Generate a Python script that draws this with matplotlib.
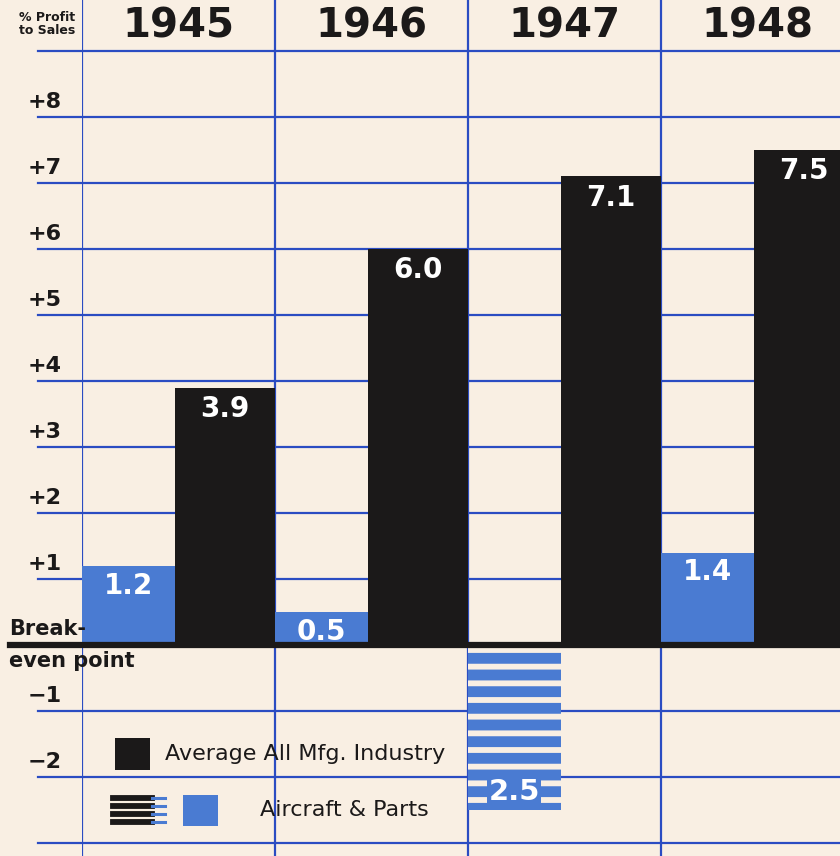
import matplotlib
matplotlib.use("Agg")
import matplotlib.pyplot as plt
from matplotlib.patches import Rectangle
from matplotlib.lines import Line2D
import numpy as np

# data (% profit to sales)
years = ["1945", "1946", "1947", "1948"]
industry = [3.9, 6.0, 7.1, 7.5]
aircraft = [1.2, 0.5, -2.5, 1.4]
tick_values = [8, 7, 6, 5, 4, 3, 2, 1, -1, -2]

bg = "#f9efe3"
line_blue = "#2b4cc2"
bar_blue = "#4a7bd2"
ink = "#1b1919"

plt.rcParams["hatch.linewidth"] = 7.8

W, H = 840, 856
def fx(px):
    return px / W
def fy(py):
    return 1 - py / H

fig = plt.figure(figsize=(8.4, 8.56), dpi=100, facecolor=bg)
ax = fig.add_axes([fx(82), 0, (W - 82) / W, 1])
ax.set_facecolor(bg)
xmax = (W - 82) / 193
ax.set_xlim(0, xmax)
ax.set_ylim(-211 / 66, 645 / 66)
ax.axis("off")

# grid
for v in range(-3, 10):
    if v == 0:
        continue
    ax.plot([-44 / 193, xmax], [v, v], color=line_blue, lw=1.6, clip_on=False, zorder=1)
for c in range(5):
    ax.axvline(c, color=line_blue, lw=1.6, zorder=1)

x = np.arange(len(years))

# bars
blue_bars = ax.bar(x, aircraft, width=0.48, align="edge", color=bar_blue, lw=0, zorder=2)
for b, v in zip(blue_bars, aircraft):
    if v < 0:
        b.set_facecolor(bg)
        b.set_edgecolor(bar_blue)
        b.set_hatch("-")
        b.set_linewidth(0)
ax.bar(x + 0.48, industry, width=0.52, align="edge", color=ink, lw=0, zorder=2)

# break-even line
ax.plot([-72 / 193, xmax], [0, 0], color=ink, lw=4.5, clip_on=False, zorder=4)

# value labels
for i, v in enumerate(industry):
    ax.text(i + 0.74, v - 0.32, f"{v:.1f}", ha="center", va="center",
            color="white", fontsize=20, fontweight="bold", zorder=5)
for i, v in enumerate(aircraft):
    if v >= 0:
        ax.text(i + 0.24, v - 0.3, f"{v:.1f}", ha="center", va="center",
                color="white", fontsize=20, fontweight="bold", zorder=5)
    else:
        ax.text(i + 0.24, v + 0.27, f"{abs(v):.1f}", ha="center", va="center",
                color="white", fontsize=21, fontweight="bold", zorder=5,
                bbox=dict(boxstyle="square,pad=0.05", fc=bar_blue, ec="none"))

# y tick labels
for v in tick_values:
    lab = f"+{v}" if v > 0 else f"\u2212{abs(v)}"
    ax.text(-20 / 193, v + 0.22, lab, ha="right", va="center",
            fontsize=16, fontweight="bold", color=ink, clip_on=False)

# year headers
for i, yr in enumerate(years):
    ax.text(i + 0.5, 618 / 66, yr, ha="center", va="center",
            fontsize=29, fontweight="heavy", color=ink)

fig.text(fx(47), fy(24), "% Profit\nto Sales", ha="center", va="center",
         fontsize=9, fontweight="bold", color=ink, linespacing=0.95)
fig.text(fx(9), fy(629), "Break-", ha="left", va="center",
         fontsize=15, fontweight="bold", color=ink)
fig.text(fx(9), fy(661), "even point", ha="left", va="center",
         fontsize=15, fontweight="bold", color=ink)

# legend
fig.patches.append(Rectangle((fx(115), fy(770)), 35 / W, 32 / H,
                             transform=fig.transFigure, fc=ink, ec="none", zorder=6))
fig.text(fx(165), fy(754), "Average All Mfg. Industry", ha="left", va="center",
         fontsize=16, color=ink, zorder=6)
for py in [798, 806, 814, 822]:
    fig.add_artist(Line2D([fx(113), fx(152)], [fy(py), fy(py)], color=ink, lw=4.2, zorder=6))
    fig.add_artist(Line2D([fx(152), fx(165)], [fy(py), fy(py)], color=bar_blue, lw=2.2, zorder=6))
fig.patches.append(Rectangle((fx(183), fy(826)), 35 / W, 31 / H,
                             transform=fig.transFigure, fc=bar_blue, ec="none", zorder=6))
fig.text(fx(260), fy(810), "Aircraft & Parts", ha="left", va="center",
         fontsize=16, color=ink, zorder=6)

fig.savefig("out.png", dpi=100, facecolor=bg)
